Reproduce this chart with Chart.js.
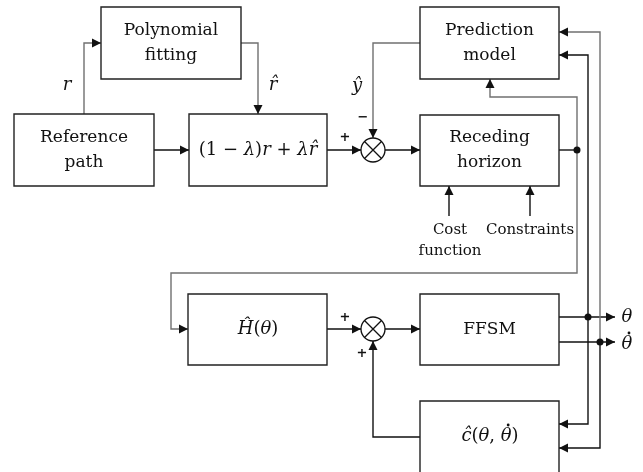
<!DOCTYPE html>
<html>
<head>
<meta charset="utf-8">
<script src="https://cdn.jsdelivr.net/npm/chart.js@4/dist/chart.umd.min.js"></script>
<style>
  html, body { margin: 0; padding: 0; background: #fff; }
  #wrap { width: 643px; height: 472px; }
</style>
</head>
<body>
<div id="wrap"><canvas id="diagram"></canvas></div>
<script>
// Diagram data, in the chart's own x/y units
const boxLabels = [['Polynomial', 'fitting'], ['Reference', 'path'], [], ['Prediction', 'model'], ['Receding', 'horizon'], [], ['FFSM'], []];
const boxLeft   = [101, 14, 189, 420, 420, 188, 420, 420];
const boxTop    = [7, 114, 114, 7, 115, 294, 294, 401];
const boxRight  = [241, 154, 327, 559, 559, 327, 559, 559];
const boxBottom = [79, 186, 186, 79, 186, 365, 365, 485];

// wires: polylines, last point is where the arrow head goes
const wireX = [
  [84, 84, 101], [241, 258, 258], [154, 189], [327, 361], [420, 373, 373], [385, 420],
  [559, 577], [577, 577, 490, 490], [600, 600, 559], [600, 600, 559], [588, 588, 559], [588, 588, 559],
  [449, 449], [530, 530], [577, 577, 171, 171, 188], [327, 361], [385, 420], [420, 373, 373],
  [559, 615], [559, 615]
];
const wireY = [
  [114, 43, 43], [43, 43, 114], [150, 150], [150, 150], [43, 43, 138], [150, 150],
  [150, 150], [150, 97, 97, 79], [342, 32, 32], [342, 448, 448], [317, 55, 55], [317, 424, 424],
  [216, 186], [216, 186], [150, 273, 273, 329, 329], [329, 329], [329, 329], [437, 437, 341],
  [317, 317], [342, 342]
];
const wireArrow = [true, true, true, true, true, true, false, true, true, true, true, true,
  true, true, true, true, true, true, true, true];
const wireGray = [true, true, false, false, true, false, false, true, true, false, false, false,
  false, false, true, false, false, false, false, false];

const junctionX = [373, 373];
const junctionY = [150, 329];
const dotX = [577, 588, 600];
const dotY = [150, 317, 342];

// plain text labels
const textItems = ['+', '−', '+', '+', 'Cost', 'function', 'Constraints'];
const textX = [345, 363, 345, 362, 450, 450, 530];
const textY = [138, 118, 318, 354, 230, 251, 230];

// math labels: pieces of [text, style] (0 upright, 1 italic, 2 italic with dot above)
const mathItems = [
  [['r', 1]],
  [['r̂', 1]],
  [['ŷ', 1]],
  [['(1 − ', 0], ['λ', 1], [')', 0], ['r', 1], [' + ', 0], ['λ', 1], ['r̂', 1]],
  [['Ĥ', 1], ['(', 0], ['θ', 1], [')', 0]],
  [['ĉ', 1], ['(', 0], ['θ', 1], [', ', 0], ['θ', 2], [')', 0]],
  [['θ', 1]],
  [['θ', 2]]
];
const mathX = [67, 273, 357, 258, 258, 490, 627, 627];
const mathY = [85, 85, 86, 150, 329, 436, 317, 344];

const FONT = '"DejaVu Serif", serif';
const INK = '#111';
const GRAY = '#707070';

const datasets = [];
// first datasets are painted last, so marks on top come first
datasets.push({
  data: dotX.map((v, i) => ({ x: v, y: dotY[i] })),
  pointStyle: 'circle',
  pointRadius: 3.5,
  pointBorderWidth: 0,
  pointBackgroundColor: INK
});
datasets.push({
  data: junctionX.map((v, i) => ({ x: v, y: junctionY[i] })),
  pointStyle: 'crossRot',
  pointRadius: 12,
  pointBorderWidth: 1.3,
  pointBorderColor: INK,
  borderColor: INK
});
datasets.push({
  data: junctionX.map((v, i) => ({ x: v, y: junctionY[i] })),
  pointStyle: 'circle',
  pointRadius: 12,
  pointBorderWidth: 1.3,
  pointBorderColor: INK,
  pointBackgroundColor: '#fff'
});
boxLeft.forEach((l, i) => {
  const t = boxTop[i], r = boxRight[i], b = boxBottom[i];
  datasets.push({
    data: [{ x: l, y: t }, { x: r, y: t }, { x: r, y: b }, { x: l, y: b }, { x: l, y: t }],
    showLine: true,
    borderColor: '#222',
    borderWidth: 1.4,
    pointRadius: 0,
    borderJoinStyle: 'miter',
    borderCapStyle: 'square',
    tension: 0
  });
});
wireX.forEach((xs, i) => {
  datasets.push({
    data: xs.map((v, j) => ({ x: v, y: wireY[i][j] })),
    showLine: true,
    borderColor: wireGray[i] ? GRAY : INK,
    borderWidth: 1.4,
    pointRadius: 0,
    borderJoinStyle: 'miter',
    tension: 0
  });
});

const arrowHeads = {
  id: 'arrowHeads',
  afterDatasetsDraw: (chart) => {
    const ctx = chart.ctx;
    const sx = chart.scales.x, sy = chart.scales.y;
    ctx.save();
    wireX.forEach((xs, i) => {
      if (!wireArrow[i]) return;
      const n = xs.length;
      const x0 = sx.getPixelForValue(xs[n - 2]), y0 = sy.getPixelForValue(wireY[i][n - 2]);
      const x1 = sx.getPixelForValue(xs[n - 1]), y1 = sy.getPixelForValue(wireY[i][n - 1]);
      const a = Math.atan2(y1 - y0, x1 - x0);
      const len = 9, half = 4.5;
      ctx.fillStyle = INK;
      ctx.beginPath();
      ctx.moveTo(x1, y1);
      ctx.lineTo(x1 - len * Math.cos(a) + half * Math.sin(a), y1 - len * Math.sin(a) - half * Math.cos(a));
      ctx.lineTo(x1 - len * Math.cos(a) - half * Math.sin(a), y1 - len * Math.sin(a) + half * Math.cos(a));
      ctx.closePath();
      ctx.fill();
    });
    ctx.restore();
  }
};

const labels = {
  id: 'labels',
  afterDatasetsDraw: (chart) => {
    const ctx = chart.ctx;
    const sx = chart.scales.x, sy = chart.scales.y;
    ctx.save();
    ctx.fillStyle = INK;
    ctx.textBaseline = 'middle';
    ctx.textAlign = 'center';
    // box captions
    boxLabels.forEach((lines, i) => {
      if (!lines.length) return;
      const cx = sx.getPixelForValue((boxLeft[i] + boxRight[i]) / 2);
      const cy = sy.getPixelForValue((boxTop[i] + Math.min(boxBottom[i], 472)) / 2);
      ctx.font = `17px ${FONT}`;
      lines.forEach((s, k) => {
        ctx.fillText(s, cx, cy + (k - (lines.length - 1) / 2) * 25);
      });
    });
    // small texts
    textItems.forEach((s, i) => {
      const small = s === '+' || s === '−';
      ctx.font = small ? `bold 13px ${FONT}` : `15px ${FONT}`;
      ctx.fillText(s, sx.getPixelForValue(textX[i]), sy.getPixelForValue(textY[i]));
    });
    // math
    ctx.textAlign = 'left';
    mathItems.forEach((parts, i) => {
      let total = 0;
      const widths = parts.map(([s, st]) => {
        ctx.font = `${st ? 'italic ' : ''}18px ${FONT}`;
        const w = ctx.measureText(s).width;
        total += w;
        return w;
      });
      let px = sx.getPixelForValue(mathX[i]) - total / 2;
      const py = sy.getPixelForValue(mathY[i]);
      parts.forEach(([s, st], k) => {
        ctx.font = `${st ? 'italic ' : ''}18px ${FONT}`;
        ctx.fillText(s, px, py);
        if (st === 2) {
          ctx.beginPath();
          ctx.arc(px + widths[k] / 2 + 2, py - 11, 1.4, 0, Math.PI * 2);
          ctx.fill();
        }
        px += widths[k];
      });
    });
    ctx.restore();
  }
};

new Chart(document.getElementById('diagram').getContext('2d'), {
  type: 'scatter',
  data: { datasets: datasets },
  options: {
    animation: false,
    responsive: true,
    maintainAspectRatio: false,
    layout: { padding: 0, autoPadding: false },
    scales: {
      x: { type: 'linear', min: 0, max: 643, display: false },
      y: { type: 'linear', min: 0, max: 472, reverse: true, display: false }
    },
    plugins: {
      legend: { display: false },
      tooltip: { enabled: false }
    }
  },
  plugins: [arrowHeads, labels]
});
</script>
</body>
</html>
